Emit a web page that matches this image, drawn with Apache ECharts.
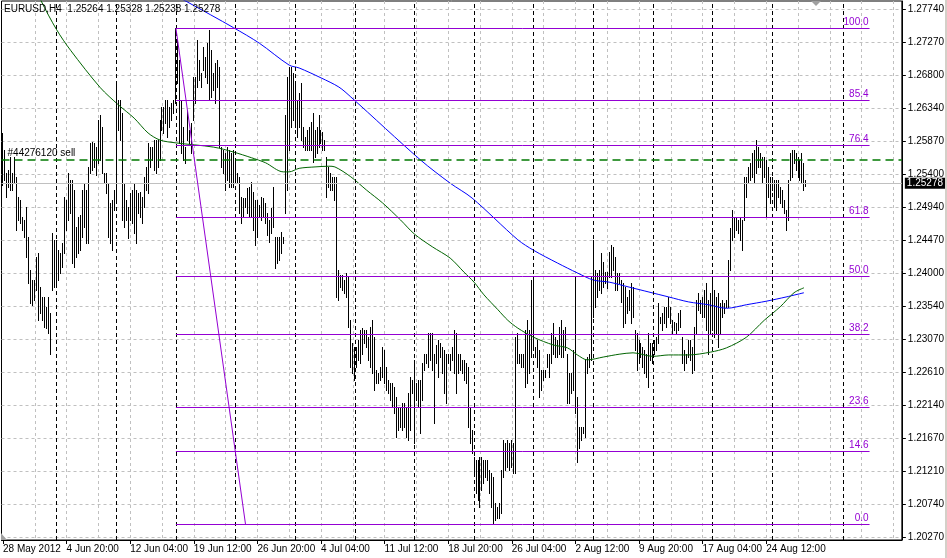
<!DOCTYPE html>
<html>
<head>
<meta charset="utf-8">
<script src="https://cdn.jsdelivr.net/npm/echarts@6/dist/echarts.min.js"></script>
<style>
html,body{margin:0;padding:0;background:#fff;}
#chart{width:947px;height:558px;}
</style>
</head>
<body>
<div id="chart"></div>
<script>
// ---- data ----
const symbolLabel = 'EURUSD,H4';
const lastBarOHLC = [1.25264, 1.25328, 1.25238, 1.25278];
const timeLabels = ['28 May 2012','4 Jun 20:00','12 Jun 04:00','19 Jun 12:00','26 Jun 20:00','4 Jul 04:00','11 Jul 12:00','18 Jul 20:00','26 Jul 04:00','2 Aug 12:00','9 Aug 20:00','17 Aug 04:00','24 Aug 12:00'];
const timeLabelBars = [0,32,64,96,128,160,192,224,256,288,320,352,384];
const gridBars = [16,32,48,64,80,96,112,128,144,160,176,192,208,224,240,256,272,288,304,320,336,352,368,384,400,416,432,448];
const weekSeparatorBars = [27,57,87,117,147,177,207,237,267,297,327,357,387,423];
const priceTicks = [1.27740,1.27270,1.26800,1.26340,1.25870,1.25400,1.24940,1.24470,1.24000,1.23540,1.23070,1.22610,1.22140,1.21670,1.21210,1.20740,1.20270];

// H4 bar highs / lows, bar 0 = 28 May 2012 12:00
const highs = [
1.2599,1.2575,1.2542,1.2546,1.2565,1.2542,1.2565,1.2537,1.2508,1.2504,
1.2480,1.2476,1.2494,1.2452,1.2405,1.2391,1.2391,1.2423,1.2429,1.2381,
1.2367,1.2367,1.2353,1.2367,1.2344,1.2457,1.2447,1.2447,1.2433,1.2429,
1.2443,1.2508,1.2504,1.2542,1.2532,1.2532,1.2518,1.2466,1.2480,1.2483,
1.2518,1.2528,1.2518,1.2551,1.2585,1.2586,1.2585,1.2579,1.2617,1.2624,
1.2607,1.2542,1.2542,1.2528,1.2500,1.2504,1.2518,1.2671,1.2646,1.2646,
1.2627,1.2528,1.2504,1.2494,1.2514,1.2518,1.2528,1.2518,1.2514,1.2515,
1.2508,1.2537,1.2551,1.2585,1.2579,1.2579,1.2589,1.2589,1.2589,1.2617,
1.2636,1.2636,1.2646,1.2646,1.2636,1.2641,1.2646,1.2747,1.2730,1.2702,
1.2646,1.2607,1.2579,1.2631,1.2603,1.2613,1.2678,1.2678,1.2730,1.2702,
1.2684,1.2721,1.2706,1.2726,1.2745,1.2716,1.2684,1.2698,1.2702,1.2692,
1.2579,1.2575,1.2571,1.2579,1.2575,1.2571,1.2575,1.2561,1.2542,1.2537,
1.2508,1.2507,1.2507,1.2521,1.2522,1.2529,1.2515,1.2504,1.2504,1.2497,
1.2508,1.2507,1.2500,1.2486,1.2476,1.2493,1.2522,1.2452,1.2452,1.2452,
1.2459,1.2452,1.2624,1.2678,1.2692,1.2692,1.2684,1.2670,1.2646,1.2655,
1.2670,1.2607,1.2593,1.2603,1.2607,1.2614,1.2627,1.2603,1.2607,1.2624,
1.2603,1.2600,1.2589,1.2565,1.2551,1.2542,1.2537,1.2537,1.2537,1.2405,
1.2398,1.2398,1.2391,1.2401,1.2395,1.2334,1.2302,1.2296,1.2296,1.2306,
1.2320,1.2323,1.2320,1.2320,1.2310,1.2324,1.2334,1.2310,1.2263,1.2259,
1.2268,1.2296,1.2292,1.2268,1.2249,1.2245,1.2245,1.2239,1.2225,1.2211,
1.2211,1.2217,1.2217,1.2211,1.2231,1.2254,1.2249,1.2278,1.2245,1.2249,
1.2249,1.2273,1.2287,1.2287,1.2316,1.2316,1.2316,1.2287,1.2299,1.2306,
1.2302,1.2296,1.2292,1.2287,1.2287,1.2287,1.2296,1.2320,1.2316,1.2287,
1.2287,1.2278,1.2278,1.2273,1.2268,1.2211,1.2179,1.2140,1.2136,1.2136,
1.2140,1.2140,1.2136,1.2136,1.2136,1.2122,1.2118,1.2112,1.2075,1.2070,
1.2075,1.2122,1.2164,1.2160,1.2164,1.2160,1.2164,1.2160,1.2310,1.2316,
1.2287,1.2287,1.2287,1.2320,1.2334,1.2320,1.2391,1.2391,1.2296,1.2306,
1.2292,1.2263,1.2263,1.2263,1.2287,1.2287,1.2316,1.2330,1.2310,1.2306,
1.2324,1.2334,1.2320,1.2324,1.2287,1.2259,1.2259,1.2292,1.2395,1.2225,
1.2183,1.2183,1.2183,1.2278,1.2282,1.2287,1.2395,1.2447,1.2405,1.2401,
1.2405,1.2429,1.2416,1.2402,1.2402,1.2430,1.2440,1.2437,1.2423,1.2401,
1.2401,1.2391,1.2387,1.2381,1.2367,1.2377,1.2387,1.2381,1.2320,1.2316,
1.2306,1.2302,1.2296,1.2292,1.2287,1.2316,1.2302,1.2302,1.2306,1.2310,
1.2358,1.2338,1.2344,1.2353,1.2353,1.2367,1.2353,1.2334,1.2331,1.2330,
1.2344,1.2348,1.2310,1.2292,1.2287,1.2306,1.2306,1.2296,1.2324,1.2363,
1.2372,1.2363,1.2367,1.2377,1.2387,1.2363,1.2372,1.2391,1.2377,1.2367,
1.2372,1.2358,1.2363,1.2358,1.2363,1.2419,1.2464,1.2490,1.2480,1.2480,
1.2476,1.2480,1.2476,1.2537,1.2537,1.2551,1.2556,1.2570,1.2575,1.2589,
1.2579,1.2570,1.2565,1.2565,1.2561,1.2551,1.2537,1.2537,1.2532,1.2532,
1.2532,1.2522,1.2518,1.2504,1.2490,1.2532,1.2570,1.2575,1.2575,1.2570,
1.2565,1.2561,1.2570,1.2556,1.25328
];
const lows = [
1.2525,1.2532,1.2508,1.2522,1.2518,1.2518,1.2528,1.2462,1.2476,1.2471,
1.2462,1.2452,1.2423,1.2387,1.2358,1.2355,1.2363,1.2377,1.2334,1.2344,
1.2334,1.2324,1.2323,1.2316,1.2287,1.2377,1.2381,1.2387,1.2391,1.2401,
1.2409,1.2429,1.2462,1.2476,1.2486,1.2415,1.2409,1.2423,1.2429,1.2433,
1.2452,1.2466,1.2443,1.2443,1.2542,1.2546,1.2551,1.2539,1.2556,1.2561,
1.2542,1.2528,1.2514,1.2452,1.2443,1.2433,1.2490,1.2504,1.2603,1.2589,
1.2476,1.2466,1.2476,1.2450,1.2476,1.2472,1.2457,1.2443,1.2486,1.2480,
1.2472,1.2494,1.2518,1.2514,1.2551,1.2561,1.2546,1.2542,1.2551,1.2561,
1.2603,1.2599,1.2613,1.2593,1.2607,1.2617,1.2627,1.2641,1.2670,1.2585,
1.2571,1.2561,1.2556,1.2589,1.2585,1.2571,1.2617,1.2641,1.2664,1.2674,
1.2664,1.2688,1.2678,1.2670,1.2646,1.2650,1.2660,1.2641,1.2664,1.2579,
1.2551,1.2542,1.2518,1.2532,1.2522,1.2522,1.2522,1.2528,1.2528,1.2486,
1.2472,1.2480,1.2494,1.2486,1.2480,1.2480,1.2462,1.2440,1.2452,1.2480,
1.2476,1.2480,1.2472,1.2454,1.2445,1.2457,1.2466,1.2408,1.2415,1.2419,
1.2429,1.2443,1.2486,1.2518,1.2575,1.2607,1.2617,1.2607,1.2593,1.2607,
1.2589,1.2579,1.2575,1.2575,1.2575,1.2575,1.2558,1.2565,1.2571,1.2579,
1.2585,1.2575,1.2575,1.2508,1.2522,1.2518,1.2518,1.2504,1.2367,1.2363,
1.2381,1.2377,1.2372,1.2367,1.2324,1.2268,1.2259,1.2249,1.2268,1.2278,
1.2273,1.2287,1.2302,1.2296,1.2278,1.2268,1.2259,1.2235,1.2245,1.2245,
1.2249,1.2254,1.2245,1.2235,1.2231,1.2221,1.2211,1.2203,1.2169,1.2179,
1.2183,1.2179,1.2183,1.2169,1.2164,1.2179,1.2231,1.2160,1.2221,1.2211,
1.2174,1.2221,1.2263,1.2273,1.2268,1.2278,1.2263,1.2189,1.2273,1.2254,
1.2282,1.2259,1.2231,1.2217,1.2273,1.2263,1.2278,1.2259,1.2231,1.2259,
1.2263,1.2259,1.2249,1.2245,1.2183,1.2160,1.2146,1.2118,1.2089,1.2080,
1.2070,1.2094,1.2104,1.2112,1.2108,1.2089,1.2070,1.2047,1.2051,1.2055,
1.2054,1.2061,1.2112,1.2122,1.2126,1.2122,1.2126,1.2118,1.2118,1.2273,
1.2273,1.2268,1.2268,1.2239,1.2245,1.2259,1.2282,1.2292,1.2282,1.2268,
1.2225,1.2235,1.2249,1.2254,1.2268,1.2254,1.2273,1.2287,1.2282,1.2282,
1.2287,1.2282,1.2282,1.2292,1.2217,1.2217,1.2231,1.2235,1.2203,1.2133,
1.2154,1.2164,1.2174,1.2169,1.2259,1.2268,1.2278,1.2338,1.2353,1.2367,
1.2377,1.2372,1.2381,1.2387,1.2380,1.2395,1.2395,1.2405,1.2377,1.2377,
1.2387,1.2360,1.2324,1.2330,1.2344,1.2348,1.2330,1.2338,1.2292,1.2263,
1.2273,1.2282,1.2268,1.2259,1.2254,1.2239,1.2278,1.2273,1.2287,1.2292,
1.2302,1.2330,1.2320,1.2330,1.2324,1.2338,1.2330,1.2316,1.2320,1.2316,
1.2320,1.2324,1.2273,1.2263,1.2273,1.2282,1.2278,1.2259,1.2263,1.2316,
1.2348,1.2344,1.2338,1.2338,1.2320,1.2287,1.2316,1.2320,1.2310,1.2316,
1.2296,1.2316,1.2338,1.2344,1.2353,1.2353,1.2405,1.2447,1.2452,1.2462,
1.2457,1.2447,1.2433,1.2476,1.2508,1.2528,1.2532,1.2537,1.2528,1.2542,
1.2551,1.2551,1.2528,1.2537,1.2480,1.2508,1.2500,1.2518,1.2494,1.2490,
1.2508,1.2500,1.2494,1.2486,1.2462,1.2476,1.2532,1.2537,1.2556,1.2546,
1.2537,1.2532,1.2528,1.2518,1.25238
];

// moving averages read at [bar, price]
const maBlue = [
[89,1.2790],[93,1.2784],[116,1.2748],[129,1.2726],[144,1.2695],[149,1.2691],[160,1.2677],
[169,1.2664],[175,1.2650],[210,1.2561],[225,1.2528],[236,1.2507],[259,1.2448],
[267,1.2433],[279,1.2415],[289,1.2401],[297,1.2391],[305,1.2388],[315,1.2381],
[325,1.2374],[335,1.2367],[345,1.2360],[355,1.2356],[364,1.2351],[374,1.2356],
[384,1.2361],[394,1.2367],[403,1.2373]
];
const maGreen = [
[15,1.2815],[19,1.2787],[27,1.2745],[34,1.2716],[49,1.2663],[58,1.2639],[66,1.2620],
[73,1.2599],[79,1.2589],[87,1.2585],[106,1.2579],[116,1.2572],[125,1.2564],
[132,1.2557],[141,1.2544],[144,1.2544],[149,1.2549],[157,1.2551],[164,1.2552],
[167,1.2551],[175,1.2537],[183,1.2518],[191,1.2500],[200,1.2476],[207,1.2456],
[216,1.2438],[225,1.2422],[232,1.2402],[237,1.2388],[242,1.2370],[249,1.2349],
[254,1.2334],[259,1.2323],[267,1.2310],[277,1.2299],[284,1.2295],[289,1.2285],
[294,1.2278],[302,1.2282],[310,1.2286],[317,1.2288],[327,1.2283],[335,1.2285],
[345,1.2285],[356,1.2289],[364,1.2295],[374,1.2310],[383,1.2334],[391,1.2353],
[398,1.2373],[403,1.2380]
];

const fibHigh = 1.27475, fibLow = 1.20458;
const fibLevels = [100, 85.4, 76.4, 61.8, 50, 38.2, 23.6, 14.6, 0];
const fibStartBar = 87, fibEndBar = 436, fibLowBar = 122;
const orderPrice = 1.25618, orderLabel = '#44276120 sell';
const bidPrice = 1.25278;

// ---- chart ----
const PURPLE = '#9400D3';
const GREEN = '#007800';
const FONT = 'Liberation Sans, Arial, sans-serif';
const xMin = -0.75, xMax = 452.25;
const yMin = 1.202318, yMax = 1.278574;

const bars = highs.map((h, i) => [i, h, lows[i]]);

const fibData = fibLevels.map(l => {
  const p = fibLow + (fibHigh - fibLow) * l / 100;
  return [{ name: l.toFixed(1), coord: [fibStartBar, p] }, { coord: [fibEndBar, p] }];
});
fibData.push([{ name: '', coord: [fibStartBar, fibHigh], label: { show: false } }, { coord: [fibLowBar, fibLow] }]);

const chart = echarts.init(document.getElementById('chart'), null, { renderer: 'canvas' });
chart.setOption({
  animation: false,
  backgroundColor: '#ffffff',
  textStyle: { fontFamily: FONT },
  grid: { left: 0, top: 1, width: 906, height: 539, show: true, borderColor: '#000', borderWidth: 1, backgroundColor: '#fff' },
  xAxis: [{
    type: 'value', min: xMin, max: xMax, position: 'bottom',
    axisLine: { show: true, onZero: false, lineStyle: { color: '#000' } },
    axisTick: { show: true, length: 4, customValues: timeLabelBars, lineStyle: { color: '#000' } },
    axisLabel: { show: true, customValues: timeLabelBars, align: 'left', margin: 4, color: '#000', fontSize: 10, fontFamily: FONT,
      formatter: v => { const k = timeLabelBars.indexOf(v); return k >= 0 ? timeLabels[k] : ''; } },
    splitLine: { show: false }
  }, {
    type: 'value', min: xMin, max: xMax, position: 'top',
    axisLine: { show: false }, axisLabel: { show: false },
    axisTick: { show: false, customValues: gridBars },
    splitLine: { show: true, lineStyle: { color: '#c0c0c0', type: [3, 3], width: 1 } }
  }],
  yAxis: {
    type: 'value', min: yMin, max: yMax, position: 'right', scale: true,
    axisLine: { show: true, onZero: false, lineStyle: { color: '#000' } },
    axisTick: { show: true, length: 4, customValues: priceTicks, lineStyle: { color: '#000' } },
    axisLabel: { show: true, customValues: priceTicks, margin: 6, color: '#000', fontSize: 10, fontFamily: FONT,
      formatter: v => v.toFixed(5) },
    splitLine: { show: true, lineStyle: { color: '#c0c0c0', type: [3, 3], width: 1 } }
  },
  series: [
    { // weekly period separators + bid line
      type: 'line', data: [], z: 1, silent: true,
      markLine: {
        symbol: ['none', 'none'], silent: true, animation: false, precision: 5,
        label: { show: false },
        data: weekSeparatorBars.map(b => ({ xAxis: b, lineStyle: { color: '#000', type: [4, 3], width: 1 } }))
          .concat([{ yAxis: bidPrice, lineStyle: { color: '#c0c0c0', type: 'solid', width: 1 },
            label: { show: true, position: 'end', distance: 3, formatter: bidPrice.toFixed(5), color: '#fff',
              backgroundColor: '#000', padding: [1, 2, 0, 2], fontSize: 10, fontFamily: FONT } }])
      }
    },
    { // OHLC bars (high-low)
      type: 'custom', z: 2, data: bars, clip: true,
      renderItem: (params, api) => {
        const i = api.value(0);
        const a = api.coord([i, api.value(1)]);
        const b = api.coord([i, api.value(2)]);
        const x = Math.round(a[0] - 0.5);
        const y1 = Math.round(a[1]), y2 = Math.round(b[1]);
        return { type: 'rect', shape: { x: x, y: y1, width: 1, height: Math.max(1, y2 - y1 + 1) },
          style: { fill: '#000' } };
      }
    },
    { type: 'line', data: maBlue, z: 3, showSymbol: false, smooth: 0.3, clip: true,
      lineStyle: { color: '#0000ff', width: 1 }, silent: true },
    { type: 'line', data: maGreen, z: 3, showSymbol: false, smooth: 0.3, clip: true,
      lineStyle: { color: '#006400', width: 1 }, silent: true },
    { // fibonacci retracement
      type: 'line', data: [], z: 4, silent: true,
      markLine: {
        symbol: ['none', 'none'], silent: true, animation: false, precision: 5,
        lineStyle: { color: PURPLE, type: 'solid', width: 1 },
        label: { show: true, position: 'insideEndTop', formatter: '{b}', color: PURPLE, fontSize: 10, fontFamily: FONT, distance: [1, 1] },
        data: fibData
      }
    },
    { // order line
      type: 'line', data: [], z: 4, silent: true,
      markLine: {
        symbol: ['none', 'none'], silent: true, animation: false, precision: 5,
        data: [{ yAxis: orderPrice, lineStyle: { color: GREEN, type: [8, 5], width: 1.5 },
          label: { show: true, position: 'insideStartTop', formatter: orderLabel, color: '#000', fontSize: 10, fontFamily: FONT, distance: [6, 1] } }]
      }
    }
  ],
  graphic: [
    { type: 'text', left: 4, top: 4, z: 100,
      style: { text: symbolLabel + '  ' + lastBarOHLC.map(v => v.toFixed(5)).join(' '), font: '10px ' + FONT, fill: '#000' } },
    { type: 'polygon', z: 100, shape: { points: [[811, 1], [821, 1], [816, 6]] }, style: { fill: '#a0a0a0' } },
    { type: 'polygon', z: 100, shape: { points: [[1, 533], [1, 540], [7, 540]] }, style: { fill: '#a0a0a0' } },
    { type: 'rect', z: 100, shape: { x: 945, y: 0, width: 2, height: 558 }, style: { fill: '#d4d0c8' } }
  ]
});
</script>
</body>
</html>
